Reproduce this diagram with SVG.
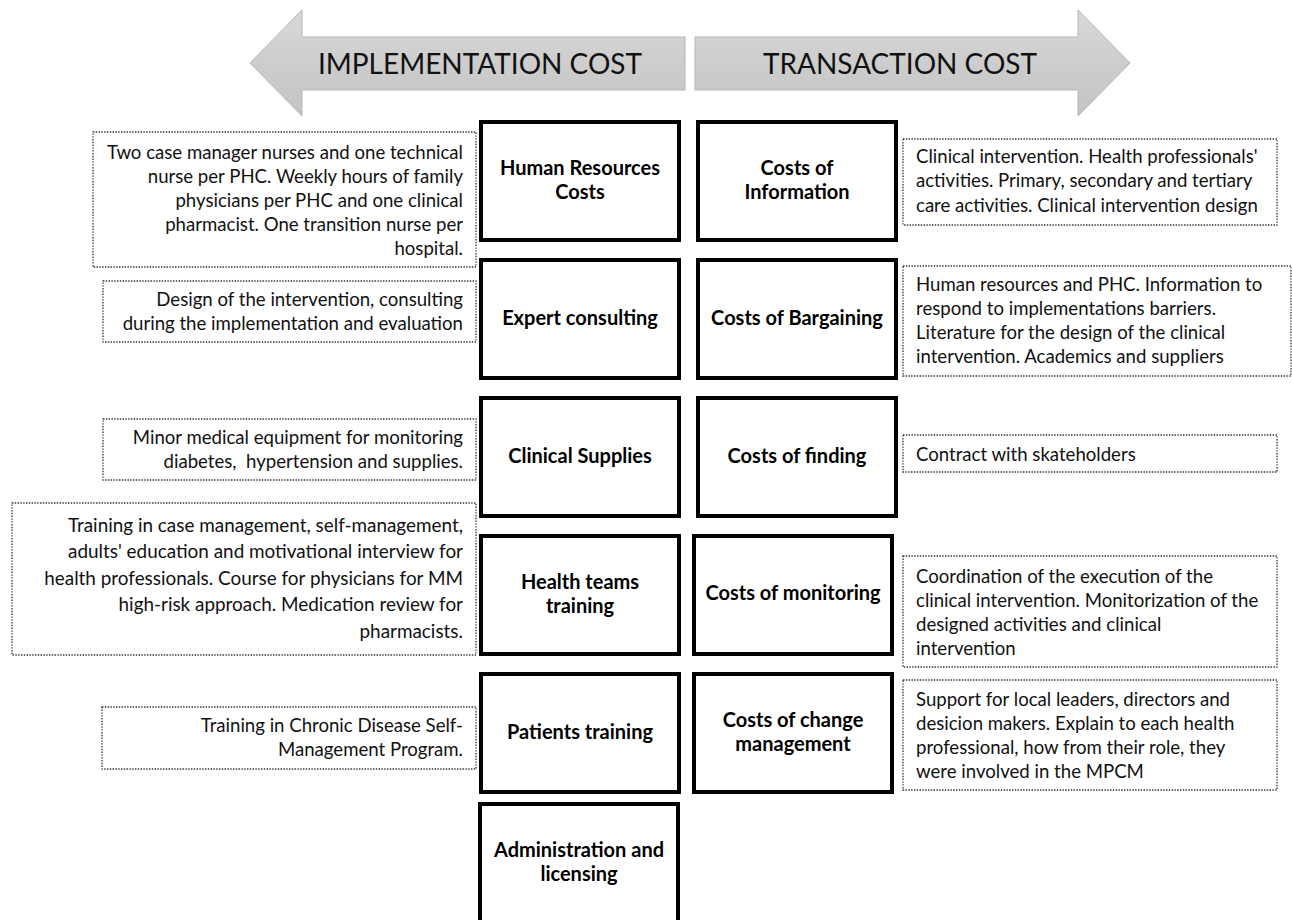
<svg xmlns="http://www.w3.org/2000/svg" width="1292" height="920" viewBox="0 0 1292 920">
  <defs>
    <linearGradient id="arrowFill" x1="0" y1="0" x2="0" y2="1">
      <stop offset="0" stop-color="#d9d9d9"/>
      <stop offset="0.5" stop-color="#cdcdcd"/>
      <stop offset="1" stop-color="#c4c4c4"/>
    </linearGradient>
    <style>
      .arrow { fill: url(#arrowFill); stroke: #b5b5b5; stroke-width: 1; }
      .head { font-family: Lato, "Liberation Sans", sans-serif; font-size: 28px; fill: #111; text-anchor: middle; }
      .cat rect { fill: #fff; stroke: #000; stroke-width: 4; }
      .cat text { font-family: Lato, "Liberation Sans", sans-serif; font-size: 20px; font-weight: bold; fill: #000; text-anchor: middle; }
      .note rect { fill: #fff; stroke: #333; stroke-width: 1.3; stroke-dasharray: 1.4 1.4; }
      .note text { font-family: Lato, "Liberation Sans", sans-serif; font-size: 18.6px; fill: #111; }
      .note.big text { font-size: 18.9px; }
      .left text { text-anchor: end; }
      .right text { text-anchor: start; }
    </style>
  </defs>
  <rect width="1292" height="920" fill="#fff"/>

  <!-- header arrows -->
  <g id="implementation-cost">
    <polygon class="arrow" points="685,37 302,37 302,10 250,63 302,116 302,90 685,90"/>
    <text class="head" x="480" y="74">IMPLEMENTATION COST</text>
  </g>
  <g id="transaction-cost">
    <polygon class="arrow" points="695,37 1078,37 1078,10 1130,63 1078,116 1078,90 695,90"/>
    <text class="head" x="900" y="74">TRANSACTION COST</text>
  </g>

  <!-- implementation cost categories -->
  <g id="human-resources" class="cat">
    <rect x="481" y="122" width="198" height="118"/>
    <text x="580" y="175">Human Resources</text>
    <text x="580" y="199">Costs</text>
  </g>
  <g id="expert-consulting" class="cat">
    <rect x="481" y="260" width="198" height="118"/>
    <text x="580" y="325">Expert consulting</text>
  </g>
  <g id="clinical-supplies" class="cat">
    <rect x="481" y="398" width="198" height="118"/>
    <text x="580" y="463">Clinical Supplies</text>
  </g>
  <g id="health-teams-training" class="cat">
    <rect x="481" y="536" width="198" height="118"/>
    <text x="580" y="589">Health teams</text>
    <text x="580" y="613">training</text>
  </g>
  <g id="patients-training" class="cat">
    <rect x="481" y="674" width="198" height="118"/>
    <text x="580" y="739">Patients training</text>
  </g>
  <g id="administration" class="cat">
    <rect x="480" y="804" width="198" height="130"/>
    <text x="579" y="857">Administration and</text>
    <text x="579" y="881">licensing</text>
  </g>

  <!-- transaction cost categories -->
  <g id="costs-information" class="cat">
    <rect x="698" y="122" width="198" height="118"/>
    <text x="797" y="175">Costs of</text>
    <text x="797" y="199">Information</text>
  </g>
  <g id="costs-bargaining" class="cat">
    <rect x="698" y="260" width="198" height="118"/>
    <text x="797" y="325">Costs of Bargaining</text>
  </g>
  <g id="costs-finding" class="cat">
    <rect x="698" y="398" width="198" height="118"/>
    <text x="797" y="463">Costs of finding</text>
  </g>
  <g id="costs-monitoring" class="cat">
    <rect x="694" y="536" width="198" height="118"/>
    <text x="793" y="600">Costs of monitoring</text>
  </g>
  <g id="costs-change" class="cat">
    <rect x="694" y="674" width="198" height="118"/>
    <text x="793" y="727">Costs of change</text>
    <text x="793" y="751">management</text>
  </g>

  <!-- descriptions, implementation side -->
  <g id="note-human-resources" class="note left">
    <rect x="93" y="132" width="383" height="135"/>
    <text x="463" y="159">Two case manager nurses and one technical</text>
    <text x="463" y="183">nurse per PHC. Weekly hours of family</text>
    <text x="463" y="207">physicians per PHC and one clinical</text>
    <text x="463" y="231">pharmacist. One transition nurse per</text>
    <text x="463" y="255">hospital.</text>
  </g>
  <g id="note-expert-consulting" class="note left">
    <rect x="103" y="281" width="373" height="61"/>
    <text x="463" y="306">Design of the intervention, consulting</text>
    <text x="463" y="330">during the implementation and evaluation</text>
  </g>
  <g id="note-clinical-supplies" class="note left">
    <rect x="103" y="419" width="373" height="61"/>
    <text x="463" y="444">Minor medical equipment for monitoring</text>
    <text x="463" y="468" xml:space="preserve">diabetes,  hypertension and supplies.</text>
  </g>
  <g id="note-health-teams" class="note left big">
    <rect x="12" y="503" width="464" height="152"/>
    <text x="463" y="532">Training in case management, self-management,</text>
    <text x="463" y="558">adults' education and motivational interview for</text>
    <text x="463" y="585">health professionals. Course for physicians for MM</text>
    <text x="463" y="611">high-risk approach. Medication review for</text>
    <text x="463" y="638">pharmacists.</text>
  </g>
  <g id="note-patients-training" class="note left">
    <rect x="102" y="707" width="374" height="62"/>
    <text x="463" y="732">Training in Chronic Disease Self-</text>
    <text x="463" y="756">Management Program.</text>
  </g>

  <!-- descriptions, transaction side -->
  <g id="note-information" class="note right">
    <rect x="903" y="139" width="374" height="86"/>
    <text x="916" y="163">Clinical intervention. Health professionals'</text>
    <text x="916" y="187">activities. Primary, secondary and tertiary</text>
    <text x="916" y="212">care activities. Clinical intervention design</text>
  </g>
  <g id="note-bargaining" class="note right">
    <rect x="903" y="266" width="388" height="110"/>
    <text x="916" y="291">Human resources and PHC. Information to</text>
    <text x="916" y="315">respond to implementations barriers.</text>
    <text x="916" y="339">Literature for the design of the clinical</text>
    <text x="916" y="363">intervention. Academics and suppliers</text>
  </g>
  <g id="note-finding" class="note right">
    <rect x="903" y="435" width="374" height="37"/>
    <text x="916" y="461">Contract with skateholders</text>
  </g>
  <g id="note-monitoring" class="note right">
    <rect x="903" y="556" width="374" height="111"/>
    <text x="916" y="583">Coordination of the execution of the</text>
    <text x="916" y="607">clinical intervention. Monitorization of the</text>
    <text x="916" y="631">designed activities and clinical</text>
    <text x="916" y="655">intervention</text>
  </g>
  <g id="note-change" class="note right">
    <rect x="903" y="680" width="374" height="110"/>
    <text x="916" y="706">Support for local leaders, directors and</text>
    <text x="916" y="730">desicion makers. Explain to each health</text>
    <text x="916" y="754">professional, how from their role, they</text>
    <text x="916" y="778">were involved in the MPCM</text>
  </g>

  <!-- no connectors are drawn between the nodes -->
  <g id="connectors"/>
</svg>
